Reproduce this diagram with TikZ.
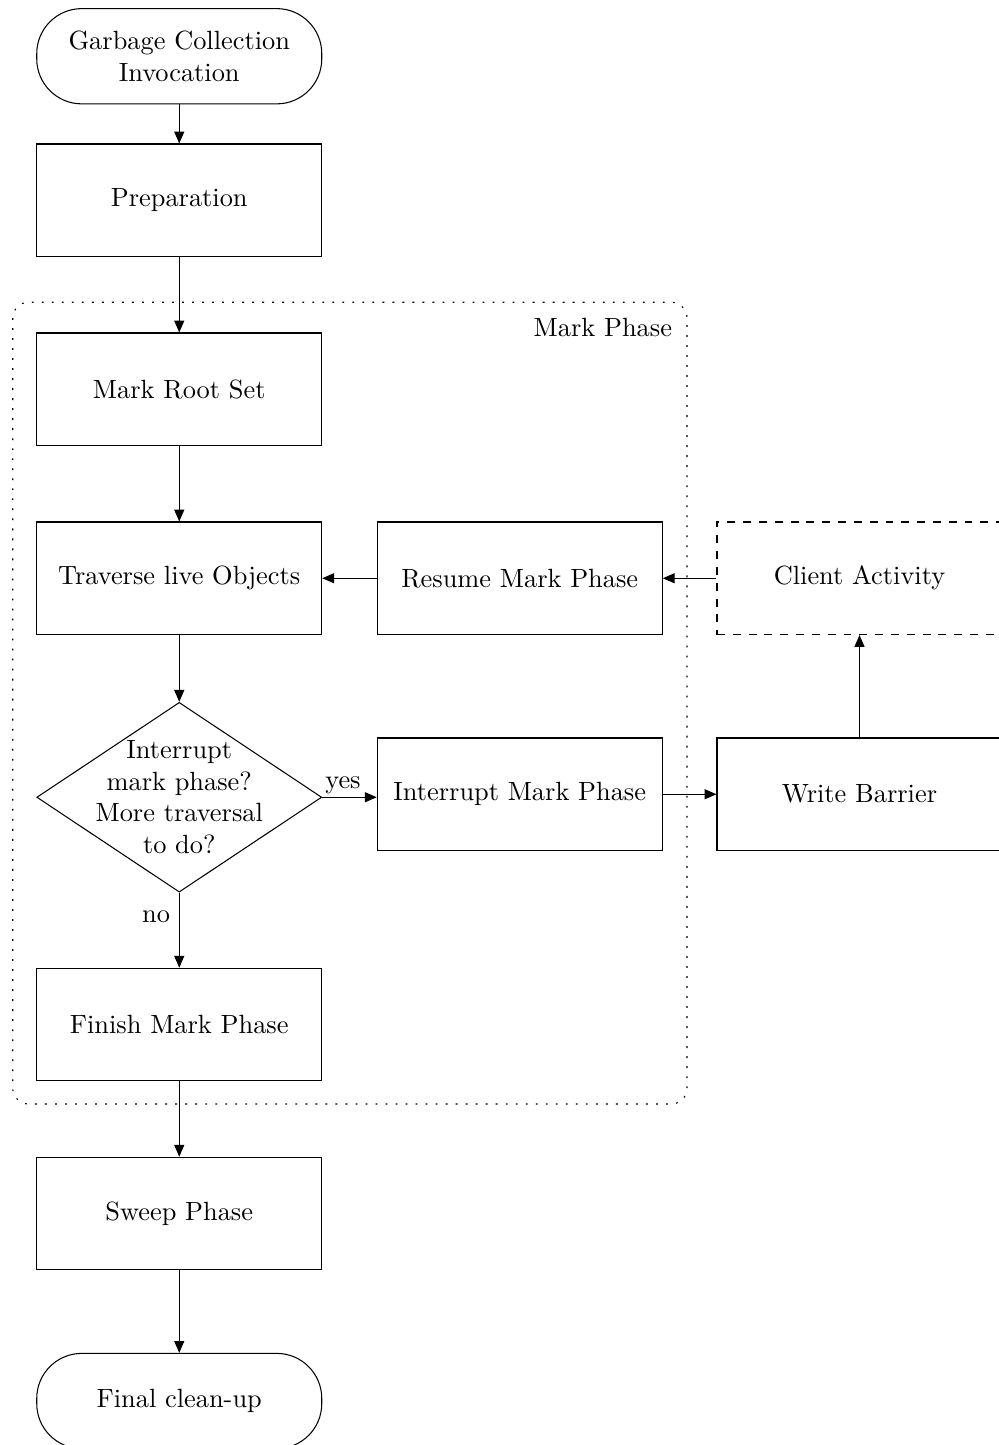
\documentclass[tikz,border=0pt]{standalone}
\usetikzlibrary{shapes.geometric,arrows.meta}
\tikzset{
  box/.style={draw, rectangle, minimum width=3.8cm, minimum height=1.5cm, text width=3.5cm, align=center},
  term/.style={draw, rectangle, rounded corners=0.6cm, minimum width=3.8cm, minimum height=1.27cm, align=center},
  decision/.style={draw, diamond, aspect=1.5, minimum width=3.8cm, minimum height=2.53cm, inner sep=-4pt, align=center},
  outside/.style={box, dashed},
  phase/.style={dash pattern=on 0.7pt off 3.1pt, rounded corners=6pt},
}
\begin{document}
\begin{tikzpicture}[>={Triangle[length=4.5pt,width=3.8pt]}]
    \useasboundingbox (0,0) rectangle (13.3067,-19.2667);
    \node[term] (start) at (2.39,-0.75) {Garbage Collection\\Invocation};
    \node[box] (prep) at (2.39,-2.67) {Preparation};
    \node[box] (root) at (2.39,-5.19) {Mark Root Set};
    \node[box] (trav) at (2.39,-7.71) {Traverse live Objects};
    \node[decision] (dec) at (2.39,-10.63) {Interrupt\\mark phase?\\More traversal\\to do?};
    \node[box] (finish) at (2.39,-13.66) {Finish Mark Phase};
    \node[box] (sweep) at (2.39,-16.18) {Sweep Phase};
    \node[term] (final) at (2.39,-18.68) {Final clean-up};
    \node[box] (resume) at (6.93,-7.71) {Resume Mark Phase};
    \node[box] (intr) at (6.93,-10.59) {Interrupt Mark Phase};
    \node[outside] (client) at (11.46,-7.71) {Client Activity};
    \node[box] (barrier) at (11.46,-10.59) {Write Barrier};
    \draw[phase] (0.17,-4.03) rectangle (9.16,-14.72);
    \node[anchor=north east, inner xsep=5.5pt, inner ysep=6pt] (mplabel) at (9.16,-4.03) {Mark Phase};
    \draw[->] (start) -- (prep);
    \draw[->] (prep) -- (root);
    \draw[->] (root) -- (trav);
    \draw[->] (trav) -- (dec);
    \draw[->] (dec) -- node[pos=0.32,left] {no} (finish);
    \draw[->] (finish) -- (sweep);
    \draw[->] (sweep) -- (final);
    \draw[->] (dec.east) -- node[pos=0.38,above,inner sep=1pt] {yes} (intr.west |- dec.east);
    \draw[->] (intr) -- (barrier);
    \draw[->] (barrier) -- (client);
    \draw[->] (client) -- (resume);
    \draw[->] (resume) -- (trav);
\end{tikzpicture}
\end{document}
